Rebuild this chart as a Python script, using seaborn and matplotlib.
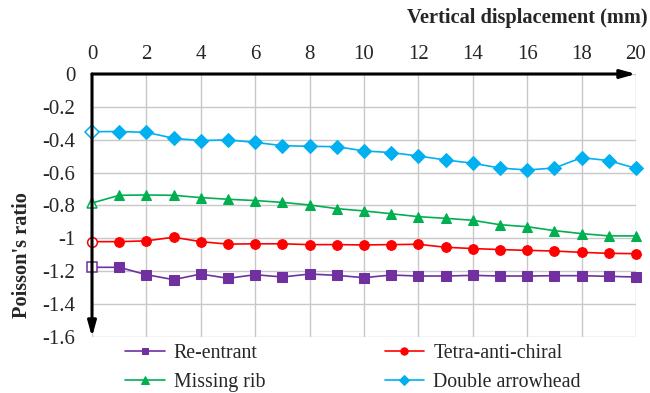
import matplotlib
matplotlib.use("Agg")
import matplotlib.pyplot as plt
import seaborn as sns
import pandas as pd
import numpy as np

displacement = list(range(0, 21))

re_entrant = [-1.176, -1.176, -1.221, -1.251, -1.217, -1.243, -1.221, -1.235, -1.217, -1.225,
              -1.239, -1.223, -1.229, -1.229, -1.225, -1.229, -1.229, -1.227, -1.227, -1.231, -1.235]
tetra_anti_chiral = [-1.02, -1.02, -1.015, -0.993, -1.02, -1.035, -1.033, -1.033, -1.038, -1.038,
                     -1.04, -1.038, -1.036, -1.054, -1.062, -1.068, -1.073, -1.077, -1.085, -1.091, -1.093]
missing_rib = [-0.785, -0.738, -0.736, -0.738, -0.752, -0.762, -0.770, -0.781, -0.797, -0.819,
               -0.833, -0.850, -0.868, -0.878, -0.890, -0.917, -0.929, -0.953, -0.971, -0.985, -0.985]
double_arrowhead = [-0.351, -0.350, -0.355, -0.391, -0.405, -0.401, -0.416, -0.436, -0.440, -0.442,
                    -0.468, -0.478, -0.499, -0.523, -0.543, -0.572, -0.584, -0.572, -0.509, -0.527, -0.574]

series_names = ["Re-entrant", "Tetra-anti-chiral", "Missing rib", "Double arrowhead"]
series_values = [re_entrant, tetra_anti_chiral, missing_rib, double_arrowhead]
colors = ["#7030A0", "#FF0000", "#00B050", "#00B0F0"]
markers = ["s", "o", "^", "D"]
marker_sizes = [6.5, 7, 7, 7]

x_ticks = list(range(0, 21, 2))
y_ticks = [0, -0.2, -0.4, -0.6, -0.8, -1, -1.2, -1.4, -1.6]
y_tick_labels = ["0", "-0.2", "-0.4", "-0.6", "-0.8", "-1", "-1.2", "-1.4", "-1.6"]

sns.set_style("white")
plt.rcParams["font.family"] = ["Liberation Serif", "DejaVu Serif"]

df = pd.concat(
    [pd.DataFrame({"x": displacement, "y": vals, "series": name})
     for name, vals in zip(series_names, series_values)],
    ignore_index=True,
)

fig = plt.figure(figsize=(6.5, 3.93), dpi=100)
ax = fig.add_axes([92 / 650, 1 - 337 / 393, (636 - 92) / 650, (337 - 74) / 393])

handles = {}
for name, col, mk, ms in zip(series_names, colors, markers, marker_sizes):
    sub = df[df["series"] == name]
    sns.lineplot(data=sub, x="x", y="y", ax=ax, color=col, marker=mk,
                 markersize=ms, markeredgecolor=col, markerfacecolor=col,
                 linewidth=1.2, legend=False, zorder=3)
    line = ax.get_lines()[-1]
    line.set_markevery(list(range(1, len(sub))))
    line.set_clip_on(False)
    handles[name] = line
    # hollow marker at the starting point
    ax.plot(sub["x"].iloc[:1], sub["y"].iloc[:1], linestyle="none", marker=mk,
            markersize=ms, markeredgecolor=col, markerfacecolor="white",
            markeredgewidth=1.1, zorder=4, clip_on=False)

ax.set_xlim(0, 20)
ax.set_ylim(-1.6, 0)
ax.xaxis.tick_top()
ax.set_xticks(x_ticks)
ax.set_yticks(y_ticks)
ax.set_yticklabels(y_tick_labels)
ax.tick_params(axis="both", length=0, labelsize=15)
ax.tick_params(axis="x", pad=7)
ax.tick_params(axis="y", pad=12)
ax.grid(True, color="#c8c8c8", linewidth=1.0)
ax.set_axisbelow(True)
for s in ax.spines.values():
    s.set_visible(False)

# axis lines drawn as arrows
ax.annotate("", xy=(20, 0), xytext=(0, 0), xycoords="data",
            arrowprops=dict(arrowstyle="-|>,head_length=0.9,head_width=0.25",
                            color="black", lw=2.2, shrinkA=0, shrinkB=0),
            annotation_clip=False, zorder=5)
ax.annotate("", xy=(0, -1.6), xytext=(0, 0), xycoords="data",
            arrowprops=dict(arrowstyle="-|>,head_length=0.9,head_width=0.25",
                            color="black", lw=2.2, shrinkA=0, shrinkB=0),
            annotation_clip=False, zorder=5)

ax.set_xlabel("")
ax.set_ylabel("")
fig.text(648 / 650, 1 - 18 / 393, "Vertical displacement (mm)", ha="right", va="center",
         fontsize=14.7, fontweight="bold")
fig.text(22 / 650, 1 - 255 / 393, "Poisson's ratio", ha="center", va="center",
         rotation=90, fontsize=14.7, fontweight="bold")

order = ["Re-entrant", "Missing rib", "Tetra-anti-chiral", "Double arrowhead"]
leg = fig.legend([handles[n] for n in order], order, ncol=2, frameon=False,
                 loc="center", bbox_to_anchor=(0.543, 1 - 368 / 393),
                 fontsize=14.3, handlelength=2.0, handletextpad=0.45, numpoints=1,
                 columnspacing=6.0, labelspacing=0.5, markerscale=0.75)
for h in leg.legend_handles:
    h.set_markevery([1])

fig.savefig("out.png", dpi=100)
